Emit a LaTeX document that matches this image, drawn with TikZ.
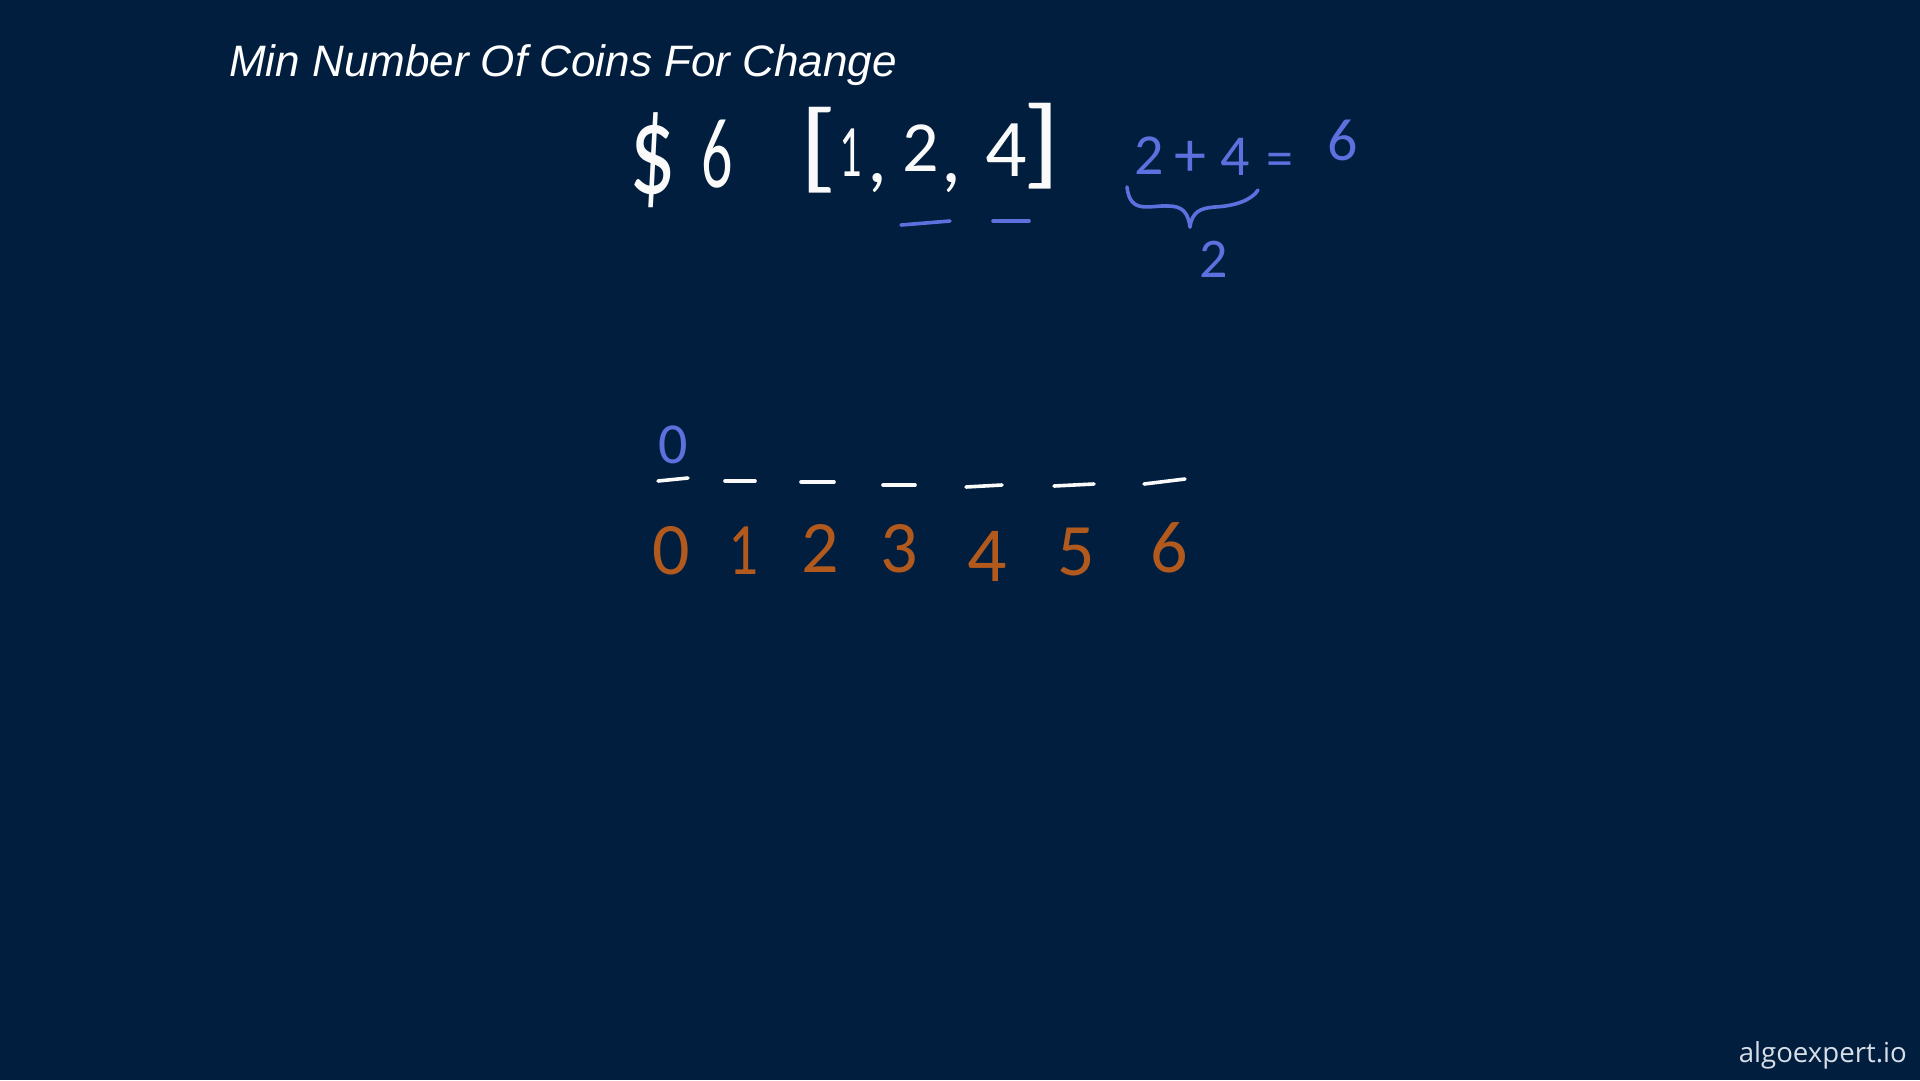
\documentclass[tikz,border=0pt]{standalone}
\usepackage{fontspec}
\usepackage{graphicx}
\setmainfont{Liberation Sans}
\newfontfamily\handfont{Carlito}
\newfontfamily\markfont{Open Sans}
\definecolor{bgnavy}{RGB}{1,30,62}
\definecolor{inkblue}{RGB}{92,112,222}
\definecolor{inkbrown}{RGB}{178,90,30}
\definecolor{inkwhite}{RGB}{250,250,250}
\definecolor{markgray}{RGB}{215,222,232}
\tikzset{
  hand/.style={inner sep=0pt, anchor=center, font=\handfont\fontsize{#1}{#1}\selectfont},
  handw/.style={hand=#1, text=inkwhite},
  handb/.style={hand=#1, text=inkblue},
  handr/.style={hand=#1, text=inkbrown},
  stroke/.style={line width=3.6pt, line cap=round, line join=round},
  dashw/.style={stroke, draw=inkwhite},
  dashb/.style={stroke, draw=inkblue},
}
\begin{document}
\begin{tikzpicture}[x=1pt,y=-1pt]
\fill[bgnavy] (0,0) rectangle (1920,1080);
\useasboundingbox (0,0) rectangle (1920,1080);

% title
\node[anchor=base west, inner sep=0pt, text=white,
      font=\itshape\fontsize{44}{44}\selectfont] (title) at (229,76) {Min Number Of Coins For Change};

% $ 6 [1, 2, 4]
\node[handw=128, xscale=0.72] (dollar) at (653,160) {\$};
\node[handw=100, xscale=0.62] (six) at (717,154) {6};
\node[handw=100, xscale=1.25] (lbr) at (819,150) {[};
\node[handw=74, xscale=0.6] (c1) at (851,153) {1};
\node[handw=80] (k1) at (877,183) {,};
\node[handw=72] (c2) at (921,148) {2};
\node[handw=80] (k2) at (951,183) {,};
\node[handw=82] (c4) at (1006,150) {4};
\node[handw=100, xscale=1.25] (rbr) at (1042,146) {]};

% blue underlines
\draw[dashb] (901,225) -- (950,221);
\draw[dashb] (993,221) -- (1029,221);

% 2 + 4 = 6
\node[handb=58] (b2) at (1149,156) {2};
\node[handb=64] (bplus) at (1190,159) {+};
\node[handb=58] (b4) at (1235,157) {4};
\node[handb=54] (beq) at (1280,165) {=};
\node[handb=60] (b6) at (1343,140) {6};

% brace
\draw[stroke, draw=inkblue] (1127,187) .. controls (1130,215) and (1150,205) .. (1168,206)
   .. controls (1182,206) and (1188,212) .. (1190,227);
\draw[stroke, draw=inkblue] (1190,227) .. controls (1192,212) and (1200,208) .. (1215,207)
   .. controls (1235,206) and (1252,200) .. (1258,190);
\node[handb=56] (bsum) at (1214,259) {2};

% array
\node[handb=58] (v0) at (673,445) {0};
\draw[dashw] (658,481) -- (688,478);
\draw[dashw] (725,481) -- (755,481);
\draw[dashw] (801,482) -- (834,482);
\draw[dashw] (883,485) -- (915,485);
\draw[dashw] (966,487) -- (1002,485);
\draw[dashw] (1054,486) -- (1094,484);
\draw[dashw] (1144,484) -- (1185,479);

\node[handr=74] (i0) at (671,551) {0};
\node[handr=74, xscale=0.8] (i1) at (743,551) {1};
\node[handr=74] (i2) at (820,548) {2};
\node[handr=74] (i3) at (899,549) {3};
\node[handr=78] (i4) at (987,556) {4};
\node[handr=74] (i5) at (1076,552) {5};
\node[handr=74] (i6) at (1169,548) {6};

% watermark
\node[anchor=base east, inner sep=0pt, text=markgray] (mark) at (1907,1062)
  {\resizebox{168pt}{!}{\markfont algoexpert.io}};
\end{tikzpicture}
\end{document}
